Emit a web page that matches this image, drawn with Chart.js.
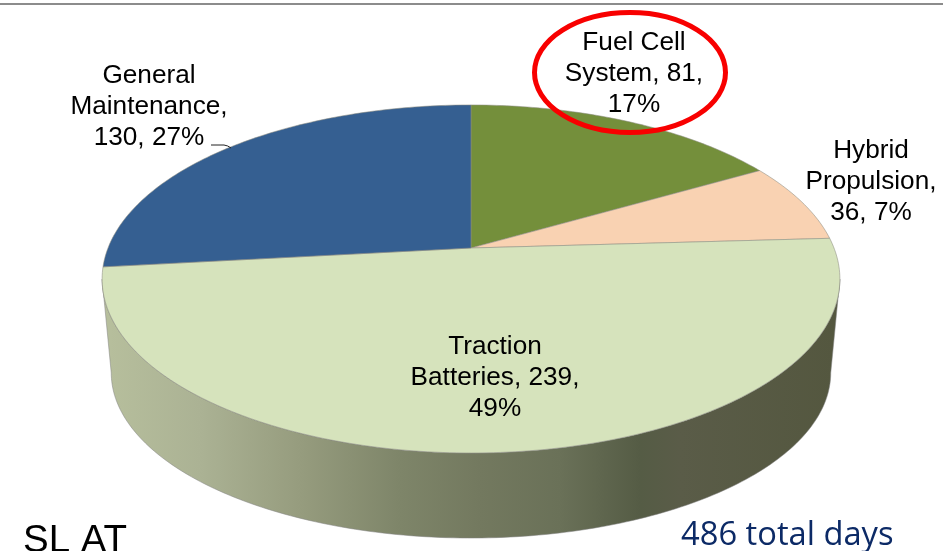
<!DOCTYPE html>
<html><head><meta charset="utf-8">
<style>html,body{margin:0;padding:0;background:#fff;overflow:hidden}canvas{display:block}</style>
<script src="https://cdn.jsdelivr.net/npm/chart.js@4"></script>
</head><body>
<canvas id="c" width="943" height="551"></canvas>
<script>
const categories = ["Fuel Cell System","Hybrid Propulsion","Traction Batteries","General Maintenance"];
const days = [81,36,239,130];
const percents = ["17%","7%","49%","27%"];
const sliceColors = ["#748f3b","#f9d2b2","#d6e3bc","#355f91"];
const labelLines = [
  ["Fuel Cell","System, 81,","17%"],
  ["Hybrid","Propulsion,","36, 7%"],
  ["Traction","Batteries, 239,","49%"],
  ["General","Maintenance,","130, 27%"]
];
const labelSpots = [[634,50],[871,158],[495,354],[149,83]];
const lineGap = 31;
const topFace = {cx:471,cy:248,a:363,b:168.5,k:0.178};
const bottomFace = {cx:471,cy:343.4,a:354,b:160,k:0.178};
const sideStops = [[110,"#b6be9c"],[200,"#abb294"],[300,"#969c7e"],[400,"#7e8569"],[480,"#73795f"],[560,"#6a7158"],[640,"#555c45"],[680,"#5a5c48"],[835,"#54573f"]];

function proj(f,t){const w=1+f.k*Math.cos(t);return [f.cx+f.a*Math.sin(t)/w,f.cy-f.b*Math.cos(t)/w];}
function trace(ctx,f,t0,t1){const n=Math.max(2,Math.ceil(Math.abs(t1-t0)*60));
  for(let i=0;i<=n;i++){const p=proj(f,t0+(t1-t0)*i/n);ctx.lineTo(p[0],p[1]);}}

const pie3d={id:'pie3d',
  beforeDatasetsDraw(chart){
    const ctx=chart.ctx,meta=chart.getDatasetMeta(0);
    const tA=100.3*Math.PI/180,tB=259.7*Math.PI/180;
    ctx.save();
    const g=ctx.createLinearGradient(110,0,835,0);
    sideStops.forEach(s=>g.addColorStop((s[0]-110)/725,s[1]));
    ctx.beginPath();
    let p=proj(topFace,tA);ctx.moveTo(p[0],p[1]);
    trace(ctx,bottomFace,tA,tB);
    trace(ctx,topFace,tB,tA);
    ctx.closePath();
    ctx.fillStyle=g;ctx.fill();
    ctx.strokeStyle="rgba(130,130,130,0.5)";ctx.lineWidth=1;ctx.stroke();
    meta.data.forEach(el=>{
      const t0=el.startAngle+Math.PI/2,t1=el.endAngle+Math.PI/2;
      ctx.beginPath();ctx.moveTo(topFace.cx,topFace.cy);
      trace(ctx,topFace,t0,t1);ctx.closePath();
      ctx.fillStyle=el.options.backgroundColor;ctx.fill();
      ctx.strokeStyle="rgba(140,140,130,0.55)";ctx.lineWidth=1;ctx.stroke();
    });
    ctx.restore();
    return false;
  },
  afterDraw(chart){
    const ctx=chart.ctx;
    ctx.save();
    ctx.fillStyle="#8c8c8c";ctx.fillRect(0,3,943,2);
    ctx.fillStyle="#000";ctx.textAlign="center";ctx.textBaseline="alphabetic";
    ctx.font='26.2px "Liberation Sans"';
    labelLines.forEach((ls,i)=>ls.forEach((s,j)=>ctx.fillText(s,labelSpots[i][0],labelSpots[i][1]+j*lineGap)));
    ctx.strokeStyle="#222";ctx.lineWidth=1;
    ctx.beginPath();ctx.moveTo(211,145);ctx.lineTo(224,145);ctx.quadraticCurveTo(228,145.5,231,148);ctx.stroke();
    ctx.strokeStyle="#f80000";ctx.lineWidth=5;
    ctx.beginPath();ctx.ellipse(630,72.5,95.5,60,0,0,Math.PI*2);ctx.stroke();
    ctx.textAlign="left";ctx.fillStyle="#000";ctx.font='38.5px "Liberation Sans"';
    ctx.fillText("SL AT",23,552);
    ctx.fillStyle="#0c2a66";ctx.font='32.7px "Open Sans"';
    ctx.fillText("486 total days",681,545);
    ctx.restore();
  }
};
new Chart(document.getElementById('c'),{
  type:'pie',
  data:{labels:categories,datasets:[{data:days,backgroundColor:sliceColors}]},
  options:{responsive:false,animation:false,rotation:0,
    plugins:{legend:{display:false},tooltip:{enabled:false}}},
  plugins:[pie3d]
});
</script>
</body></html>
